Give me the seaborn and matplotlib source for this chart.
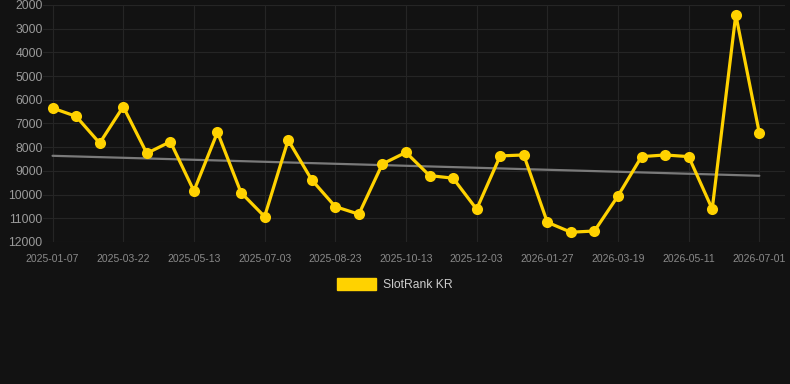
import pandas as pd
import seaborn as sns
import matplotlib.pyplot as plt
import numpy as np
from matplotlib.patches import Patch

### DATA
ranks = [6350, 6700, 7830, 6290, 8260, 7770, 9850, 7370, 9920, 10930,
         7700, 9380, 10510, 10830, 8710, 8220, 9200, 9310, 10620, 8370,
         8330, 11170, 11590, 11540, 10060, 8400, 8330, 8400, 10610, 2410,
         7410]
tick_labels = ['2025-01-07', '2025-03-22', '2025-05-13', '2025-07-03', '2025-08-23',
               '2025-10-13', '2025-12-03', '2026-01-27', '2026-03-19', '2026-05-11',
               '2026-07-01']
y_ticks = [2000, 3000, 4000, 5000, 6000, 7000, 8000, 9000, 10000, 11000, 12000]
series_name = 'SlotRank KR'

df = pd.DataFrame({'idx': np.arange(len(ranks)), 'rank': ranks})

### STYLE
bg = '#121212'
gold = '#FFD200'
sns.set_style('dark', {'axes.facecolor': bg, 'figure.facecolor': bg,
                       'grid.color': '#222222', 'axes.edgecolor': bg})
plt.rcParams['font.family'] = ['Liberation Sans', 'DejaVu Sans']

fig = plt.figure(figsize=(7.9, 3.84), dpi=100)
ax = fig.add_axes([0.054, 0.370, 0.94, 0.617])

# trend line
sns.regplot(data=df, x='idx', y='rank', scatter=False, ci=None,
            line_kws={'color': '#7a7a7a', 'lw': 1.6}, ax=ax)

# main series
sns.lineplot(data=df, x='idx', y='rank', color=gold, lw=2.3, marker='o',
             markersize=8, markeredgewidth=0, ax=ax)

ax.set_ylim(12000, 2000)
ax.set_xlim(-0.42, 31.1)
ax.set_yticks(y_ticks)
ax.set_yticklabels([str(v) for v in y_ticks])
ax.set_xticks(np.arange(0, len(ranks), 3))
ax.set_xticklabels(tick_labels)
ax.grid(True, color='#252525', lw=0.8)
ax.set_xlabel('')
ax.set_ylabel('')
ax.tick_params(axis='y', colors='#9a9a9a', labelsize=8.8, length=0, pad=0)
ax.tick_params(axis='x', colors='#8a8a8a', labelsize=7.5, length=0, pad=9)
for s in ax.spines.values():
    s.set_visible(False)

# legend
handle = Patch(facecolor=gold, edgecolor=gold)
fig.legend([handle], [series_name], loc='center', bbox_to_anchor=(0.5, 0.258),
           frameon=False, fontsize=8.7, labelcolor='#cccccc',
           handlelength=3.2, handleheight=1.1, handletextpad=0.6)

plt.savefig('out.png', dpi=100, facecolor=bg)
plt.close()
